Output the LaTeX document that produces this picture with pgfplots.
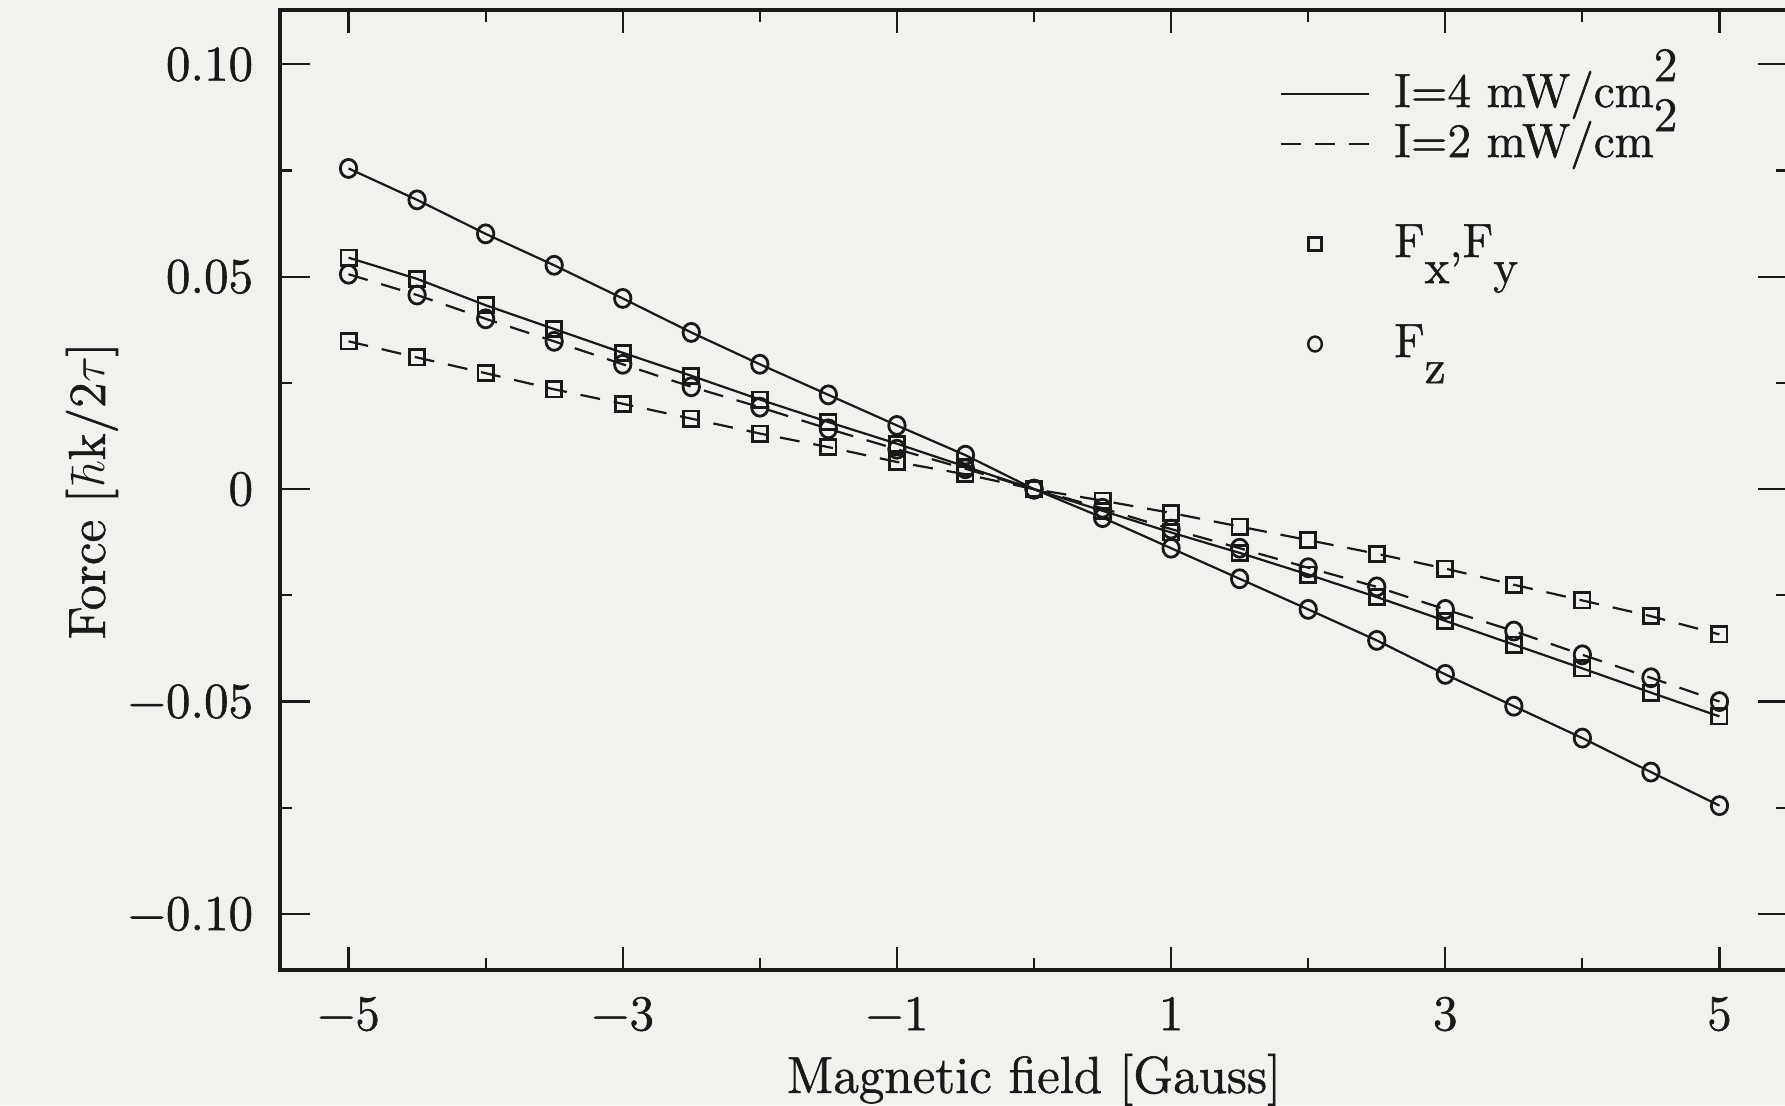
\documentclass[border=0pt]{standalone}
\usepackage{fontspec}
\usepackage{pgfplots}
\usepackage{pgfplotstable}
\pgfplotsset{compat=1.18}
\newfontfamily\plotfont{Latin Modern Roman}[FakeBold=1.2]
\definecolor{bg}{RGB}{241,241,238}
\definecolor{ink}{RGB}{25,25,25}
\pgfplotsset{shortline/.style={legend image code/.code={\draw[##1] (0pt,0pt) -- (22pt,0pt);}}}

\pgfplotstableread{
x     fzA      fxA      fzB      fxB
-5    0.0755   0.0545   0.0506   0.0348
-4.5  0.0681   0.0495   0.0457   0.0310
-4    0.0601   0.0433   0.0401   0.0273
-3.5  0.0527   0.0377   0.0348   0.0235
-3    0.0449   0.0321   0.0294   0.0201
-2.5  0.0369   0.0267   0.0241   0.0166
-2    0.0294   0.0211   0.0193   0.0131
-1.5  0.0222   0.0158   0.0142   0.0099
-1    0.0150   0.0107   0.0094   0.0064
-0.5  0.0080   0.0053   0.0048   0.0035
0     0        0        0        0
0.5  -0.0067  -0.0051  -0.0045  -0.0027
1    -0.0139  -0.0102  -0.0094  -0.0056
1.5  -0.0211  -0.0150  -0.0139  -0.0088
2    -0.0283  -0.0201  -0.0185  -0.0120
2.5  -0.0356  -0.0254  -0.0230  -0.0152
3    -0.0436  -0.0310  -0.0283  -0.0187
3.5  -0.0511  -0.0366  -0.0334  -0.0225
4    -0.0586  -0.0422  -0.0390  -0.0262
4.5  -0.0666  -0.0479  -0.0444  -0.0299
5    -0.0745  -0.0535  -0.0500  -0.0342
}\data

\begin{document}
\begin{tikzpicture}
\path[fill=bg, use as bounding box] (-70pt,-33.75pt) rectangle (376.25pt,242.5pt);
\begin{axis}[
  at={(0pt,0pt)}, anchor=south west,
  scale only axis, width=377pt, height=240pt,
  xmin=-5.5, xmax=5.5, ymin=-0.1132, ymax=0.1128,
  axis line style={line width=0.85pt, ink},
  xtick={-5,-3,-1,1,3,5}, minor xtick={-4,-2,0,2,4},
  ytick={-0.1,-0.05,0,0.05,0.1}, minor ytick={-0.075,-0.025,0.025,0.075},
  xticklabels={−5,−3,−1,1,3,5},
  yticklabels={−0.10,−0.05,0,0.05,0.10},
  tick align=inside,
  major tick length=6.5pt, minor tick length=3pt,
  xtick style={/pgfplots/major tick length=5.75pt},
  ytick style={/pgfplots/major tick length=7.5pt},
  tick style={line width=0.55pt, ink},
  tick label style={font=\plotfont\fontsize{12.5}{14}\selectfont, text=ink},
  xticklabel style={yshift=-3.2pt},
  yticklabel style={xshift=-3.2pt},
  xlabel={Magnetic field [Gauss]},
  ylabel={Force [$\hbar$k/2$\tau$]},
  label style={font=\plotfont\fontsize{13}{15}\selectfont, text=ink},
  xlabel style={at={(axis description cs:0.5,-0.128)}, anchor=base},
  ylabel style={at={(axis description cs:-0.1247,0.499)}, anchor=center, rotate=0},
  legend style={draw=none, fill=none, at={(axis description cs:0.663,0.9385)},
    anchor=north west, inner sep=0pt, outer sep=0pt, row sep=0pt, column sep=6pt,
    font=\plotfont\fontsize{12}{12}\selectfont, text=ink,
    nodes={inner sep=0pt, text height=9.5pt, text depth=3pt}},
  legend cell align=left,
]
\addplot[ink, line width=0.55pt, mark=o, mark size=2.05pt, mark options={solid, line width=0.7pt, yscale=1.1}, forget plot] table[x=x,y=fzA] {\data};
\addplot[ink, line width=0.55pt, mark=square, mark size=1.9pt, mark options={solid, line width=0.7pt}, forget plot] table[x=x,y=fxA] {\data};
\addplot[ink, line width=0.55pt, dash pattern=on 5pt off 3.5pt, mark=o, mark size=2.05pt, mark options={solid, line width=0.7pt, yscale=1.1}, forget plot] table[x=x,y=fzB] {\data};
\addplot[ink, line width=0.55pt, dash pattern=on 5pt off 3.5pt, mark=square, mark size=1.9pt, mark options={solid, line width=0.7pt}, forget plot] table[x=x,y=fxB] {\data};

\addlegendimage{ink, line width=0.55pt, shortline}
\addlegendentry{I=4 mW/cm\raisebox{6.5pt}{2}}
\addlegendimage{ink, line width=0.55pt, dash pattern=on 5pt off 3.5pt, shortline}
\addlegendentry{I=2 mW/cm\raisebox{6.5pt}{2}}
\addlegendimage{empty legend}
\addlegendentry{}
\addlegendimage{only marks, ink, mark=square, mark size=1.6pt, mark options={line width=0.6pt}}
\addlegendentry{F\raisebox{-6.5pt}{x},F\raisebox{-6.5pt}{y}}
\addlegendimage{empty legend}
\addlegendentry{}
\addlegendimage{only marks, ink, mark=o, mark size=1.7pt, mark options={line width=0.6pt, yscale=1.1}}
\addlegendentry{F\raisebox{-6.5pt}{z}}

\node[rotate=-90, font=\plotfont\fontsize{7.5}{8}\selectfont, text=ink] at (axis description cs:-0.173,0.454) {73};
\end{axis}
\end{tikzpicture}
\end{document}
